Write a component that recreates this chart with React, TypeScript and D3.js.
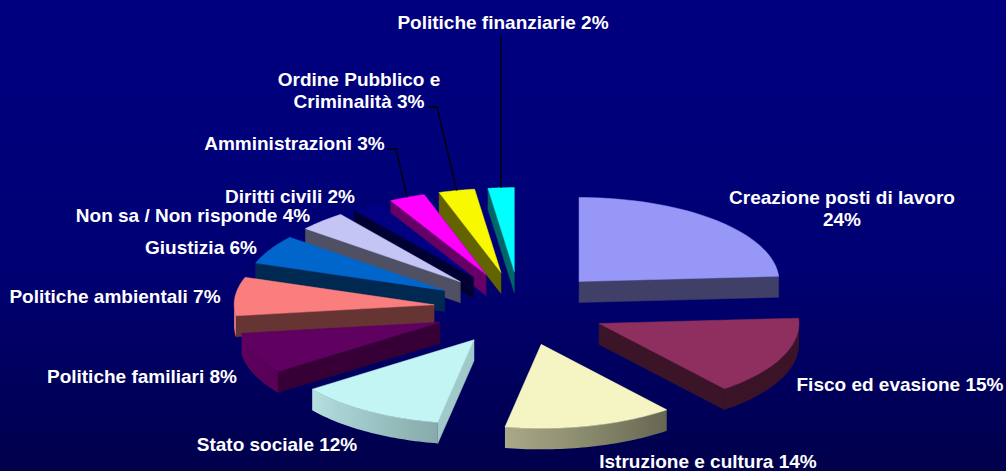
import React from "react";
import * as d3 from "d3";

const categories = ["Creazione posti di lavoro","Fisco ed evasione","Istruzione e cultura","Stato sociale","Politiche familiari","Politiche ambientali","Giustizia","Non sa / Non risponde","Diritti civili","Amministrazioni","Ordine Pubblico e Criminalità","Politiche finanziarie"];
const values = [24, 15.2, 13.7, 12.1, 7.9, 7.4, 5.6, 3.9, 2.3, 2.9, 2.9, 2.1];
const topColors = ["#9797f8","#8f2f5f","#f5f5c4","#c4f5f5","#600060","#fa7e7e","#0066cc","#c4c4f5","#000080","#ff00ff","#f8f800","#00ffff"];
const radialShade = [0.42,0.42,0.42,0.82,0.56,0.41,0.4,0.41,0.4,0.4,0.4,0.4];

// label layout: one or two lines, x anchor, first baseline
const labelLines: string[][] = [
  ["Creazione posti di lavoro","24%"],["Fisco ed evasione 15%"],["Istruzione e cultura 14%"],["Stato sociale 12%"],
  ["Politiche familiari 8%"],["Politiche ambientali 7%"],["Giustizia 6%"],["Non sa / Non risponde 4%"],
  ["Diritti civili 2%"],["Amministrazioni 3%"],["Ordine Pubblico e","Criminalità 3%"],["Politiche finanziarie 2%"],
];
const labelX = [842,900,708,277,142,115,201,193,290,294.5,359,503];
const labelY = [204,391,468,451,383,303,254,222,203,150,86,29];
const leaderLabelEnd: ([number, number] | null)[] = [null,null,null,null,null,null,null,null,null,[387,149],[428,107],null];

const W = 1006, H = 471;
const cx = 520, cy = 308.5, rx = 200, ry = 84, depth = 21, explodeX = 86.3, explodeY = 37;
const shadeStops: [number, number][] = [[90,0.41],[140,0.41],[190,0.69],[234,0.92],[270,1]];
const shadeAt = d3.scaleLinear(shadeStops.map(d=>d[0]), shadeStops.map(d=>d[1])).clamp(true);
const dim = (c: string, f: number) => { const r = d3.rgb(c); return d3.rgb(r.r*f, r.g*f, r.b*f).formatHex(); };

export default function App() {
  const arcs = d3.pie<number>().sort(null).value(d=>d).startAngle(0).endAngle(2*Math.PI)(values);
  const pt = (a: number) => [rx*Math.sin(a), -ry*Math.cos(a)];
  const slices = arcs.map((s,i)=>{
    const mid = (s.startAngle+s.endAngle)/2;
    const ax = cx+explodeX*Math.sin(mid), ay = cy-explodeY*Math.cos(mid);
    const P = (a:number, dz=0)=>{ const p=pt(a); return [ax+p[0], ay+p[1]+dz] as [number,number]; };
    const samples = d3.range(0,41).map(k=>s.startAngle+(s.endAngle-s.startAngle)*k/40);
    const top = d3.line()([[ax,ay],...samples.map(a=>P(a))])+"Z";
    const w0 = Math.max(s.startAngle, Math.PI/2), w1 = Math.min(s.endAngle, 3*Math.PI/2);
    let wall: string|null = null; let stops: {o:number,c:string}[] = []; let x0=0,x1=0;
    if (w1>w0) {
      const ws = d3.range(0,41).map(k=>w0+(w1-w0)*k/40);
      const up = ws.map(a=>P(a)); const dn = ws.map(a=>P(a,depth)).reverse();
      wall = d3.line()([...up,...dn])+"Z";
      x0 = P(w0)[0]; x1 = P(w1)[0];
      stops = d3.range(0,9).map(k=>{ const a=w0+(w1-w0)*k/8; return {o:(P(a)[0]-x0)/((x1-x0)||1), c:dim(topColors[i],shadeAt(a*180/Math.PI))}; });
    }
    const quad = (a:number)=>{ const e=P(a), e2=P(a,depth); return d3.line()([[ax,ay],e,e2,[ax,ay+depth]])+"Z"; };
    const faces: string[] = [];
    if (Math.sin(s.startAngle)<-1e-6) faces.push(quad(s.startAngle));
    if (Math.sin(s.endAngle)>1e-6) faces.push(quad(s.endAngle));
    return {i,top,wall,stops,x0,x1,faces,outerMid:P(mid),ay};
  });
  const order = d3.range(values.length).sort((a,b)=>slices[a].ay-slices[b].ay);
  const line = d3.line();
  return (
    <svg width={W} height={H} viewBox={`0 0 ${W} ${H}`} style={{position:"fixed",left:0,top:0,display:"block"}}>
      <defs>
        <linearGradient id="bg" x1="0" y1="0" x2="0" y2="1">
          <stop offset="0" stopColor="#000080"/><stop offset="0.55" stopColor="#000074"/><stop offset="1" stopColor="#00004c"/>
        </linearGradient>
        {slices.filter(s=>s.wall).map(s=>(
          <linearGradient key={s.i} id={`w${s.i}`} gradientUnits="userSpaceOnUse" x1={s.x0} x2={s.x1} y1="0" y2="0">
            {s.stops.map((t,k)=><stop key={k} offset={t.o} stopColor={t.c}/>)}
          </linearGradient>
        ))}
      </defs>
      <rect width={W} height={H} fill="url(#bg)"/>
      {order.map(i=>{ const s=slices[i]; const side=dim(topColors[i],radialShade[i]); return (
        <g key={i}>
          {s.faces.map((f,k)=><path key={k} d={f} fill={side} stroke={side} strokeWidth={0.5}/>)}
          {s.wall && <path d={s.wall} fill={`url(#w${i})`}/>}
          <path d={s.top} fill={topColors[i]} stroke={topColors[i]} strokeWidth={0.5}/>
        </g>
      );})}
      {slices.map(s=>{ const end=leaderLabelEnd[s.i]; if(!end && s.i!==11) return null;
        const pts: [number,number][] = s.i===11 ? [[s.outerMid[0],36],s.outerMid as [number,number]] : [end as [number,number],[end![0]+9,end![1]],s.outerMid as [number,number]];
        return <path key={s.i} d={line(pts)!} fill="none" stroke="#000" strokeWidth={1.3}/>; })}
      {categories.map((c,i)=>(
        <text key={c} x={labelX[i]} y={labelY[i]} textAnchor="middle" fill="#fff" fontFamily="'Liberation Sans', Arial, sans-serif" fontWeight="bold" fontSize={19}>
          {labelLines[i].map((l,k)=><tspan key={k} x={labelX[i]} dy={k?22:0}>{l}</tspan>)}
        </text>
      ))}
    </svg>
  );
}
